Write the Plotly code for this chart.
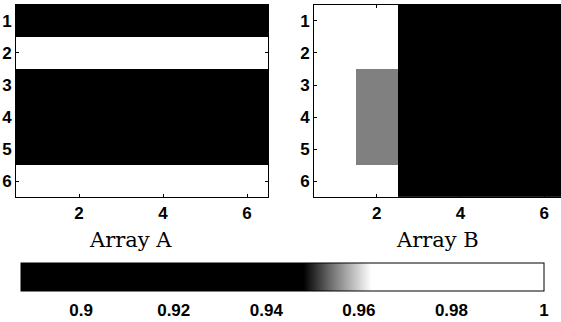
import plotly.graph_objects as go

# Data
cols = [1, 2, 3, 4, 5, 6]
rows = [1, 2, 3, 4, 5, 6]
array_a = [
    [0.900, 0.900, 0.900, 0.900, 0.900, 0.900],
    [1.000, 1.000, 1.000, 1.000, 1.000, 1.000],
    [0.905, 0.905, 0.905, 0.905, 0.905, 0.905],
    [0.910, 0.910, 0.910, 0.910, 0.910, 0.910],
    [0.905, 0.905, 0.905, 0.905, 0.905, 0.905],
    [1.000, 1.000, 1.000, 1.000, 1.000, 1.000],
]
array_b = [
    [1.000, 0.998, 0.890, 0.890, 0.890, 0.890],
    [1.000, 0.998, 0.890, 0.890, 0.890, 0.890],
    [1.000, 0.955, 0.890, 0.890, 0.890, 0.890],
    [1.000, 0.955, 0.890, 0.890, 0.890, 0.890],
    [1.000, 0.955, 0.890, 0.890, 0.890, 0.890],
    [1.000, 0.998, 0.890, 0.890, 0.890, 0.890],
]
cbar_ticks = [0.9, 0.92, 0.94, 0.96, 0.98, 1.0]
cbar_labels = ["0.9", "0.92", "0.94", "0.96", "0.98", "1"]
xticks = [2, 4, 6]
yticks = [1, 2, 3, 4, 5, 6]
titles = ["Array A", "Array B"]
zmin, zmax = 0.887, 1.0

W, H = 561, 322
fig = go.Figure()
fig.add_trace(go.Heatmap(x=cols, y=rows, z=array_a, coloraxis="coloraxis",
                         xaxis="x", yaxis="y"))
fig.add_trace(go.Heatmap(x=cols, y=rows, z=array_b, coloraxis="coloraxis",
                         xaxis="x2", yaxis="y2"))

tickfont = dict(family="Liberation Sans", size=17, color="black", weight="bold")
axcommon = dict(showline=True, linecolor="black", linewidth=1, mirror="ticks",
                ticks="inside", ticklen=3, tickcolor="black", showgrid=False,
                zeroline=False, tickfont=tickfont)
ydom = [1 - 203 / H, 1 - 5 / H]
fig.update_layout(
    width=W, height=H,
    margin=dict(l=0, r=0, t=0, b=0),
    paper_bgcolor="white", plot_bgcolor="white",
    xaxis=dict(domain=[16 / W, 268 / W], range=[0.5, 6.5], tickvals=xticks,
               anchor="y", **axcommon),
    yaxis=dict(domain=ydom, range=[6.5, 0.5], tickvals=yticks, anchor="x",
               **axcommon),
    xaxis2=dict(domain=[314 / W, 1.0], range=[0.5, 6.4], tickvals=xticks,
                anchor="y2", **axcommon),
    yaxis2=dict(domain=ydom, range=[6.5, 0.5], tickvals=yticks, anchor="x2",
                **axcommon),
    coloraxis=dict(
        cmin=zmin, cmax=zmax,
        colorscale=[[0.0, "rgb(0,0,0)"], [0.54, "rgb(0,0,0)"],
                    [0.60, "rgb(125,125,125)"], [0.67, "rgb(255,255,255)"],
                    [1.0, "rgb(255,255,255)"]],
        colorbar=dict(
            orientation="h", lenmode="pixels", len=523, thickness=28,
            x=(21 + 544) / 2 / W, xanchor="center",
            y=1 - 271 / H, yanchor="top", yref="paper",
            xpad=0, ypad=0, outlinecolor="black", outlinewidth=1,
            tickvals=cbar_ticks, ticktext=cbar_labels,
            ticks="outside", ticklen=5, tickcolor="rgba(0,0,0,0)",
            tickfont=tickfont,
        ),
    ),
    annotations=[
        dict(text=titles[0], x=130 / W, y=1 - 247 / H, xref="paper", yref="paper",
             showarrow=False, xanchor="center", yanchor="middle",
             font=dict(family="DejaVu Serif", size=21, color="black")),
        dict(text=titles[1], x=437 / W, y=1 - 247 / H, xref="paper", yref="paper",
             showarrow=False, xanchor="center", yanchor="middle",
             font=dict(family="DejaVu Serif", size=21, color="black")),
    ],
)
fig.write_html("out.html", config={"displayModeBar": False},
               post_script="document.body.style.margin='0';document.body.style.overflow='hidden';")
